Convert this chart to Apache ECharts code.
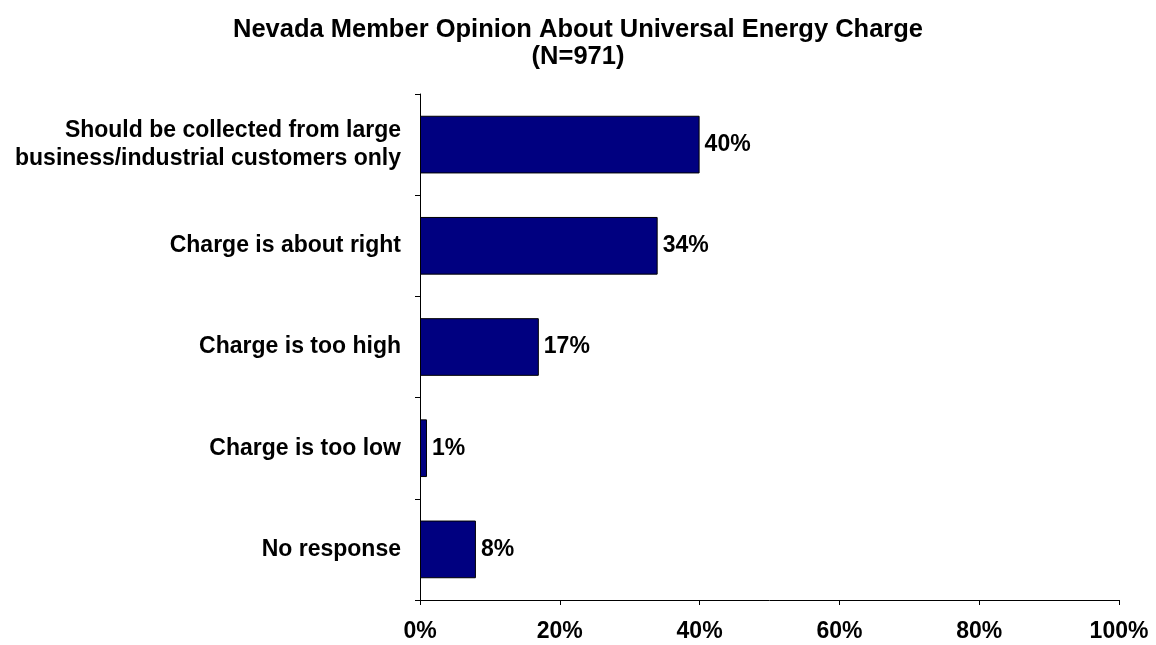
<!DOCTYPE html>
<html>
<head>
<meta charset="utf-8">
<script src="https://cdn.jsdelivr.net/npm/echarts@6/dist/echarts.min.js"></script>
<style>
  html, body { margin: 0; padding: 0; background: #fff; }
  #chart { width: 1156px; height: 645px; }
</style>
</head>
<body>
<div id="chart"></div>
<script>
// Survey responses, listed top to bottom
const categories = [
  'Should be collected from large\nbusiness/industrial customers only',
  'Charge is about right',
  'Charge is too high',
  'Charge is too low',
  'No response'
];
const shares = [40, 34, 17, 1, 8];
const xTicks = [0, 20, 40, 60, 80, 100];

const FONT = '"Liberation Sans", Arial, sans-serif';
const chart = echarts.init(document.getElementById('chart'));

chart.setOption({
  animation: false,
  title: [{
    text: 'Nevada Member Opinion About Universal Energy Charge',
    left: 'center',
    top: 10,
    textStyle: { fontFamily: FONT, fontSize: 25.5, lineHeight: 30, fontWeight: 'bold', color: '#000' }
  }, {
    text: '(N=971)',
    left: 'center',
    top: 37,
    textStyle: { fontFamily: FONT, fontSize: 25.5, lineHeight: 30, fontWeight: 'bold', color: '#000' }
  }],
  grid: { left: 420, right: 37, top: 94, bottom: 45, containLabel: false },
  xAxis: {
    type: 'value',
    min: xTicks[0],
    max: xTicks[xTicks.length - 1],
    interval: 20,
    axisLine: { show: true, lineStyle: { color: '#000', width: 1 } },
    axisTick: { show: true, length: 5, lineStyle: { color: '#000' } },
    splitLine: { show: false },
    axisLabel: {
      formatter: v => v + '%',
      fontFamily: FONT, fontSize: 23, fontWeight: 'bold', color: '#000', margin: 20
    }
  },
  yAxis: {
    type: 'category',
    data: categories,
    inverse: true,
    axisLine: { show: true, lineStyle: { color: '#000', width: 1 } },
    axisTick: { show: true, length: 5, alignWithLabel: false, lineStyle: { color: '#000' } },
    axisLabel: {
      fontFamily: FONT, fontSize: 23, fontWeight: 'bold', color: '#000',
      margin: 19, lineHeight: 28, align: 'right'
    }
  },
  series: [{
    type: 'bar',
    data: shares,
    barCategoryGap: '43%',
    itemStyle: { color: '#000080', borderColor: '#000', borderWidth: 1 },
    label: {
      show: true,
      position: 'right',
      distance: 5,
      formatter: p => p.value + '%',
      fontFamily: FONT, fontSize: 23, fontWeight: 'bold', color: '#000'
    }
  }]
});
</script>
</body>
</html>
